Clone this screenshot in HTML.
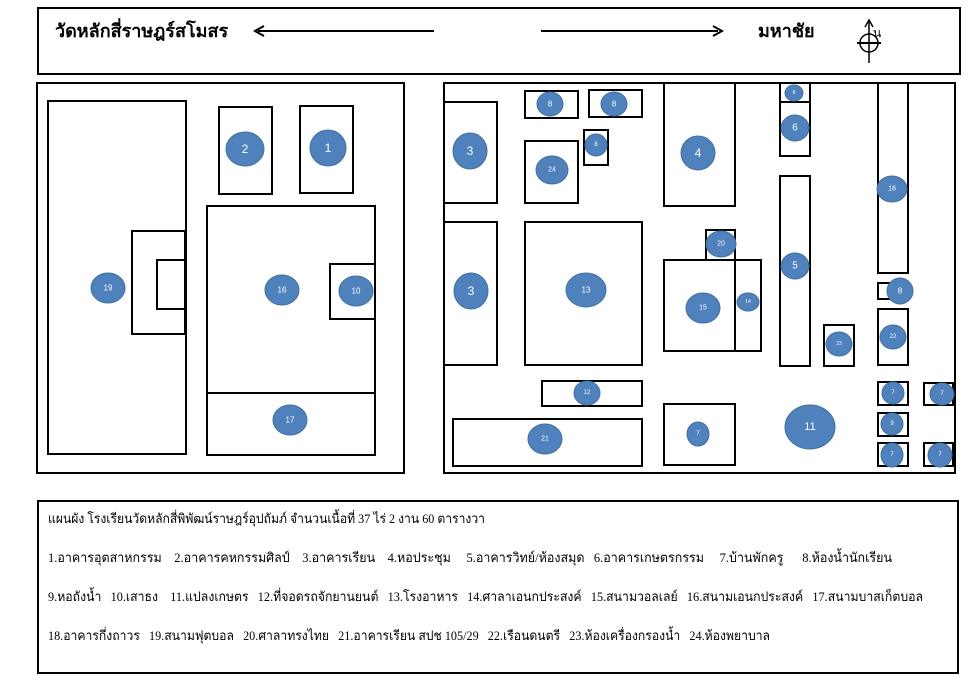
<!DOCTYPE html>
<html><head><meta charset="utf-8"><style>
body{margin:0;background:#fff;width:978px;height:691px;overflow:hidden}
svg{position:absolute;left:0;top:0}
text{font-family:"Liberation Serif","DejaVu Sans",serif}
.r{fill:none;stroke:#000;stroke-width:2}
.c{fill:#4f81bd;stroke:#41719c;stroke-width:1}
.l{fill:#fff;font-family:"Liberation Sans","DejaVu Sans",sans-serif;text-anchor:middle;dominant-baseline:central}
.t{font-size:13px}
</style></head><body>
<svg width="978" height="691" viewBox="0 0 978 691">
<rect class="r" x="38" y="8" width="922" height="66"/>
<text x="55" y="37" font-size="18" font-weight="bold">วัดหลักสี่ราษฎร์สโมสร</text>
<line x1="258" y1="31" x2="434" y2="31" stroke="#000" stroke-width="2"/>
<path d="M264 26 L255 31 L264 36" fill="none" stroke="#000" stroke-width="2"/>
<line x1="541" y1="31" x2="718" y2="31" stroke="#000" stroke-width="2"/>
<path d="M713 26 L722 31 L713 36" fill="none" stroke="#000" stroke-width="2"/>
<text x="758" y="37" font-size="18" font-weight="bold">มหาชัย</text>
<line x1="869" y1="21" x2="869" y2="63" stroke="#000" stroke-width="1.5"/>
<path d="M865 27 L869 20 L873 27" fill="none" stroke="#000" stroke-width="1.5"/>
<circle cx="869" cy="43" r="9" fill="none" stroke="#000" stroke-width="1.5"/>
<line x1="857" y1="43" x2="881" y2="43" stroke="#000" stroke-width="2"/>
<text x="873" y="37" font-size="12">น</text>

<rect class="r" x="37" y="83" width="367" height="390"/>
<rect class="r" x="48" y="101" width="138" height="353"/>
<rect class="r" x="132" y="231" width="53" height="103"/>
<rect class="r" x="157" y="260" width="28" height="49"/>
<rect class="r" x="219" y="107" width="53" height="87"/>
<rect class="r" x="300" y="106" width="53" height="87"/>
<rect class="r" x="207" y="206" width="168" height="187"/>
<rect class="r" x="330" y="264" width="45" height="55"/>
<rect class="r" x="207" y="393" width="168" height="62"/>

<rect class="r" x="444" y="83" width="511" height="390"/>
<rect class="r" x="444" y="102" width="53" height="101"/>
<rect class="r" x="444" y="222" width="53" height="143"/>
<rect class="r" x="525" y="91" width="53" height="27"/>
<rect class="r" x="589" y="90" width="53" height="27"/>
<rect class="r" x="525" y="141" width="53" height="62"/>
<rect class="r" x="584" y="130" width="24" height="35"/>
<rect class="r" x="664" y="83" width="71" height="123"/>
<rect class="r" x="780" y="83" width="30" height="19"/>
<rect class="r" x="780" y="102" width="30" height="54"/>
<rect class="r" x="780" y="176" width="30" height="190"/>
<rect class="r" x="878" y="83" width="30" height="190"/>
<rect class="r" x="878" y="283" width="12" height="16"/>
<rect class="r" x="878" y="309" width="30" height="56"/>
<rect class="r" x="525" y="222" width="117" height="143"/>
<rect class="r" x="706" y="230" width="29" height="30"/>
<rect class="r" x="664" y="260" width="71" height="91"/>
<rect class="r" x="735" y="260" width="26" height="91"/>
<rect class="r" x="824" y="325" width="30" height="41"/>
<rect class="r" x="542" y="381" width="100" height="25"/>
<rect class="r" x="453" y="419" width="189" height="47"/>
<rect class="r" x="664" y="404" width="71" height="61"/>
<rect class="r" x="878" y="382" width="30" height="23"/>
<rect class="r" x="924" y="383" width="29" height="22"/>
<rect class="r" x="878" y="413" width="30" height="23"/>
<rect class="r" x="878" y="443" width="30" height="23"/>
<rect class="r" x="924" y="443" width="29" height="23"/>

<g>
<ellipse class="c" cx="245" cy="149" rx="19" ry="17"/><text class="l" x="245" y="149" font-size="12">2</text>
<ellipse class="c" cx="328" cy="148" rx="18" ry="18"/><text class="l" x="328" y="148" font-size="12">1</text>
<ellipse class="c" cx="108" cy="288" rx="17" ry="15"/><text class="l" x="108" y="288" font-size="8">19</text>
<ellipse class="c" cx="282" cy="290" rx="17" ry="15"/><text class="l" x="282" y="290" font-size="8">16</text>
<ellipse class="c" cx="356" cy="291" rx="17" ry="15"/><text class="l" x="356" y="291" font-size="8">10</text>
<ellipse class="c" cx="290" cy="420" rx="17" ry="15"/><text class="l" x="290" y="420" font-size="8">17</text>

<ellipse class="c" cx="470" cy="151" rx="17" ry="18"/><text class="l" x="470" y="151" font-size="12">3</text>
<ellipse class="c" cx="471" cy="291" rx="17" ry="18"/><text class="l" x="471" y="291" font-size="12">3</text>
<ellipse class="c" cx="550" cy="104" rx="13" ry="12"/><text class="l" x="550" y="104" font-size="8">8</text>
<ellipse class="c" cx="614" cy="104" rx="13" ry="12"/><text class="l" x="614" y="104" font-size="8">8</text>
<ellipse class="c" cx="552" cy="170" rx="16" ry="14"/><text class="l" x="552" y="170" font-size="7">24</text>
<ellipse class="c" cx="596" cy="145" rx="11" ry="11"/><text class="l" x="596" y="145" font-size="6">8</text>
<ellipse class="c" cx="698" cy="153" rx="17" ry="17"/><text class="l" x="698" y="153" font-size="12">4</text>
<ellipse class="c" cx="794" cy="93" rx="9" ry="8"/><text class="l" x="794" y="93" font-size="5">8</text>
<ellipse class="c" cx="795" cy="128" rx="14" ry="13"/><text class="l" x="795" y="128" font-size="10">6</text>
<ellipse class="c" cx="795" cy="266" rx="14" ry="13"/><text class="l" x="795" y="266" font-size="10">5</text>
<ellipse class="c" cx="892" cy="189" rx="15" ry="13"/><text class="l" x="892" y="189" font-size="7">18</text>
<ellipse class="c" cx="900" cy="291" rx="13" ry="13"/><text class="l" x="900" y="291" font-size="8">8</text>
<ellipse class="c" cx="893" cy="337" rx="13" ry="12"/><text class="l" x="893" y="337" font-size="6">22</text>
<ellipse class="c" cx="586" cy="290" rx="20" ry="17"/><text class="l" x="586" y="290" font-size="8">13</text>
<ellipse class="c" cx="721" cy="244" rx="15" ry="13"/><text class="l" x="721" y="244" font-size="7">20</text>
<ellipse class="c" cx="703" cy="308" rx="17" ry="15"/><text class="l" x="703" y="308" font-size="7">15</text>
<ellipse class="c" cx="748" cy="302" rx="11" ry="9"/><text class="l" x="748" y="302" font-size="5">14</text>
<ellipse class="c" cx="839" cy="344" rx="13" ry="12"/><text class="l" x="839" y="344" font-size="5">23</text>
<ellipse class="c" cx="587" cy="393" rx="13" ry="12"/><text class="l" x="587" y="393" font-size="6">12</text>
<ellipse class="c" cx="545" cy="439" rx="17" ry="15"/><text class="l" x="545" y="439" font-size="7">21</text>
<ellipse class="c" cx="698" cy="434" rx="11" ry="12"/><text class="l" x="698" y="434" font-size="6">7</text>
<ellipse class="c" cx="810" cy="427" rx="25" ry="22"/><text class="l" x="810" y="427" font-size="11">11</text>
<ellipse class="c" cx="893" cy="393" rx="11" ry="11"/><text class="l" x="893" y="393" font-size="6">7</text>
<ellipse class="c" cx="942" cy="394" rx="12" ry="11"/><text class="l" x="942" y="394" font-size="6">7</text>
<ellipse class="c" cx="892" cy="424" rx="11" ry="11"/><text class="l" x="892" y="424" font-size="6">9</text>
<ellipse class="c" cx="892" cy="455" rx="11" ry="12"/><text class="l" x="892" y="455" font-size="6">7</text>
<ellipse class="c" cx="940" cy="455" rx="12" ry="12"/><text class="l" x="940" y="455" font-size="6">7</text>
</g>

<rect class="r" x="38" y="501" width="920" height="172"/>
<text class="t" x="48" y="523" textLength="437" lengthAdjust="spacingAndGlyphs">แผนผัง โรงเรียนวัดหลักสี่พิพัฒน์ราษฎร์อุปถัมภ์  จำนวนเนื้อที่ 37 ไร่ 2 งาน 60 ตารางวา</text>
<text class="t" x="48" y="562" xml:space="preserve" textLength="844" lengthAdjust="spacingAndGlyphs">1.อาคารอุตสาหกรรม    2.อาคารคหกรรมศิลป์    3.อาคารเรียน    4.หอประชุม     5.อาคารวิทย์/ห้องสมุด   6.อาคารเกษตรกรรม     7.บ้านพักครู      8.ห้องน้ำนักเรียน</text>
<text class="t" x="48" y="601" xml:space="preserve" textLength="875" lengthAdjust="spacingAndGlyphs">9.หอถังน้ำ   10.เสาธง    11.แปลงเกษตร   12.ที่จอดรถจักยานยนต์   13.โรงอาหาร   14.ศาลาเอนกประสงค์   15.สนามวอลเลย์   16.สนามเอนกประสงค์   17.สนามบาสเก็ตบอล</text>
<text class="t" x="48" y="640" xml:space="preserve" textLength="722" lengthAdjust="spacingAndGlyphs">18.อาคารกึ่งถาวร   19.สนามฟุตบอล   20.ศาลาทรงไทย   21.อาคารเรียน สปช 105/29   22.เรือนดนตรี   23.ห้องเครื่องกรองน้ำ   24.ห้องพยาบาล</text>
</svg>
</body></html>
